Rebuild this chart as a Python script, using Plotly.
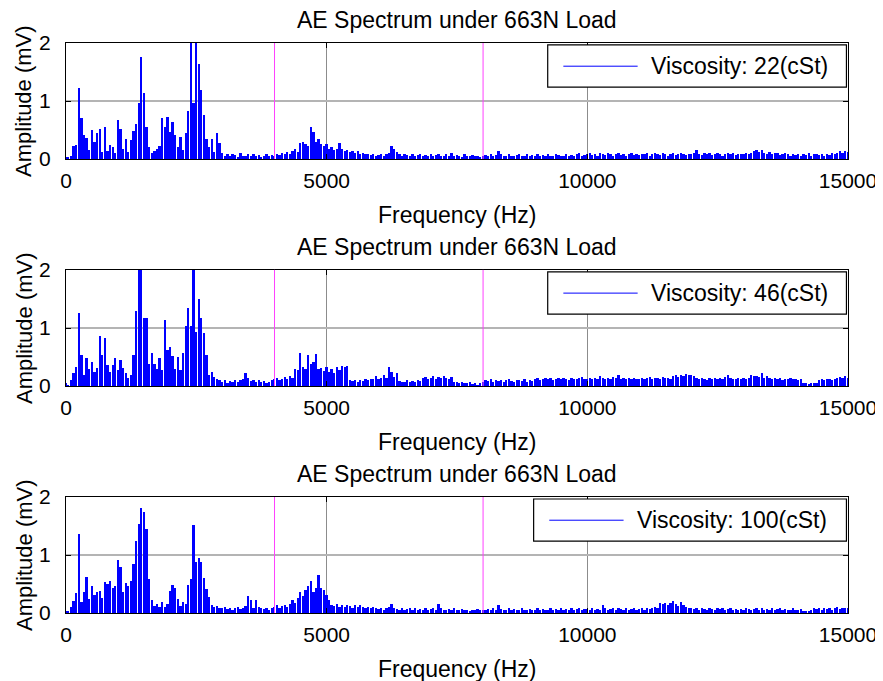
import plotly.graph_objects as go

# spectrum sampled every 50 Hz, 0 .. 15000 Hz (one row per kHz)
FREQ_STEP_HZ = 50
MARKER_FREQS_HZ = [4000, 8000]
X_TICKS = [0, 5000, 10000, 15000]
Y_TICKS = [0, 1, 2]
PANEL_TITLE = "AE Spectrum under 663N Load"
LEGEND_LABELS = ["Viscosity: 22(cSt)", "Viscosity: 46(cSt)", "Viscosity: 100(cSt)"]

AMP_22CST = [
    0.04, 0.02, 0.06, 0.22, 0.25, 1.23, 0.70, 0.41, 0.37, 0.15, 0.50, 0.29, 0.44, 0.52, 0.12, 0.56, 0.14, 0.25, 0.20, 0.10,
    0.67, 0.52, 0.18, 0.35, 0.12, 0.32, 0.48, 0.61, 0.97, 1.76, 1.13, 0.55, 0.21, 0.10, 0.14, 0.18, 0.22, 0.70, 0.55, 0.73,
    0.47, 0.64, 0.41, 0.20, 0.38, 0.15, 0.44, 0.82, 2.30, 0.96, 2.40, 1.63, 1.19, 0.76, 0.35, 0.21, 0.34, 0.12, 0.44, 0.27,
    0.10, 0.06, 0.08, 0.05, 0.09, 0.07, 0.04, 0.10, 0.06, 0.05, 0.08, 0.06, 0.09, 0.05, 0.07, 0.04, 0.06, 0.08, 0.05, 0.07,
    0.06, 0.09, 0.07, 0.10, 0.08, 0.12, 0.09, 0.14, 0.17, 0.12, 0.27, 0.29, 0.26, 0.22, 0.56, 0.47, 0.29, 0.35, 0.26, 0.23,
    0.26, 0.18, 0.20, 0.15, 0.17, 0.28, 0.17, 0.13, 0.15, 0.12, 0.14, 0.11, 0.13, 0.09, 0.10, 0.08, 0.09, 0.07, 0.08, 0.06,
    0.07, 0.09, 0.06, 0.08, 0.10, 0.22, 0.17, 0.12, 0.08, 0.06, 0.09, 0.07, 0.05, 0.08, 0.06, 0.07, 0.09, 0.05, 0.07, 0.06,
    0.08, 0.05, 0.07, 0.09, 0.06, 0.05, 0.08, 0.06, 0.10, 0.05, 0.07, 0.06, 0.04, 0.08, 0.05, 0.06, 0.07, 0.05, 0.06, 0.04,
    0.05, 0.07, 0.06, 0.08, 0.05, 0.07, 0.13, 0.08, 0.06, 0.05, 0.09, 0.06, 0.05, 0.07, 0.08, 0.05, 0.06, 0.09, 0.05, 0.07,
    0.06, 0.08, 0.05, 0.07, 0.06, 0.09, 0.05, 0.06, 0.08, 0.07, 0.05, 0.06, 0.09, 0.06, 0.07, 0.05, 0.08, 0.10, 0.06, 0.07,
    0.08, 0.10, 0.07, 0.09, 0.06, 0.11, 0.08, 0.07, 0.10, 0.09, 0.06, 0.08, 0.11, 0.07, 0.09, 0.06, 0.08, 0.10, 0.07, 0.09,
    0.07, 0.09, 0.08, 0.10, 0.06, 0.09, 0.11, 0.08, 0.07, 0.10, 0.09, 0.06, 0.08, 0.10, 0.07, 0.09, 0.11, 0.08, 0.07, 0.09,
    0.08, 0.10, 0.16, 0.09, 0.07, 0.10, 0.08, 0.11, 0.07, 0.09, 0.10, 0.08, 0.06, 0.09, 0.11, 0.08, 0.10, 0.07, 0.09, 0.08,
    0.09, 0.11, 0.08, 0.10, 0.13, 0.16, 0.12, 0.15, 0.10, 0.09, 0.12, 0.08, 0.10, 0.11, 0.07, 0.09, 0.10, 0.08, 0.06, 0.08,
    0.07, 0.09, 0.06, 0.08, 0.07, 0.10, 0.06, 0.08, 0.09, 0.07, 0.08, 0.06, 0.09, 0.07, 0.10, 0.08, 0.11, 0.13, 0.10, 0.14,
    0.12,
]

AMP_46CST = [
    0.05, 0.03, 0.10, 0.22, 0.34, 1.26, 0.54, 0.20, 0.48, 0.30, 0.41, 0.25, 0.31, 0.86, 0.54, 0.83, 0.36, 0.25, 0.36, 0.48,
    0.28, 0.45, 0.31, 0.22, 0.15, 0.19, 0.54, 1.29, 2.20, 2.10, 1.17, 1.17, 0.39, 0.57, 0.39, 0.30, 0.48, 0.28, 1.14, 0.62,
    0.68, 0.52, 0.30, 0.51, 0.28, 0.57, 1.03, 1.35, 1.03, 2.30, 0.94, 1.50, 1.17, 0.91, 0.54, 0.19, 0.25, 0.16, 0.12, 0.10,
    0.08, 0.10, 0.06, 0.09, 0.07, 0.11, 0.08, 0.10, 0.12, 0.22, 0.14, 0.09, 0.11, 0.08, 0.10, 0.07, 0.09, 0.06, 0.08, 0.10,
    0.12, 0.14, 0.11, 0.13, 0.16, 0.12, 0.18, 0.15, 0.30, 0.28, 0.57, 0.34, 0.30, 0.54, 0.38, 0.42, 0.55, 0.30, 0.31, 0.26,
    0.34, 0.25, 0.30, 0.22, 0.34, 0.28, 0.35, 0.33, 0.35, 0.10, 0.09, 0.11, 0.08, 0.10, 0.09, 0.12, 0.11, 0.13, 0.12, 0.18,
    0.12, 0.15, 0.19, 0.14, 0.34, 0.25, 0.16, 0.22, 0.09, 0.07, 0.08, 0.10, 0.07, 0.09, 0.08, 0.10, 0.09, 0.14, 0.16, 0.13,
    0.15, 0.17, 0.13, 0.16, 0.14, 0.18, 0.15, 0.12, 0.16, 0.07, 0.08, 0.06, 0.07, 0.05, 0.06, 0.07, 0.04, 0.05, 0.03, 0.06,
    0.08, 0.10, 0.09, 0.12, 0.08, 0.10, 0.09, 0.11, 0.08, 0.10, 0.12, 0.09, 0.08, 0.11, 0.10, 0.09, 0.12, 0.08, 0.10, 0.09,
    0.12, 0.14, 0.11, 0.13, 0.15, 0.12, 0.14, 0.11, 0.13, 0.15, 0.12, 0.14, 0.13, 0.11, 0.15, 0.13, 0.12, 0.14, 0.16, 0.13,
    0.13, 0.15, 0.12, 0.14, 0.13, 0.17, 0.15, 0.12, 0.14, 0.13, 0.16, 0.14, 0.20, 0.13, 0.15, 0.12, 0.14, 0.13, 0.15, 0.12,
    0.13, 0.15, 0.12, 0.14, 0.16, 0.13, 0.15, 0.14, 0.12, 0.16, 0.14, 0.15, 0.13, 0.17, 0.19, 0.16, 0.20, 0.18, 0.21, 0.19,
    0.20, 0.17, 0.14, 0.12, 0.15, 0.13, 0.11, 0.14, 0.12, 0.15, 0.13, 0.14, 0.12, 0.16, 0.19, 0.15, 0.13, 0.12, 0.14, 0.13,
    0.15, 0.13, 0.14, 0.19, 0.17, 0.18, 0.16, 0.23, 0.15, 0.17, 0.14, 0.12, 0.15, 0.13, 0.14, 0.11, 0.13, 0.12, 0.14, 0.12,
    0.13, 0.11, 0.12, 0.05, 0.06, 0.04, 0.05, 0.06, 0.05, 0.10, 0.12, 0.11, 0.13, 0.12, 0.10, 0.13, 0.14, 0.16, 0.15, 0.17,
    0.14,
]

AMP_100CST = [
    0.04, 0.03, 0.10, 0.20, 0.34, 1.36, 0.19, 0.37, 0.62, 0.25, 0.46, 0.31, 0.37, 0.38, 0.26, 0.54, 0.50, 0.55, 0.43, 0.46,
    0.91, 0.80, 0.37, 0.52, 0.46, 0.55, 0.85, 1.24, 1.54, 1.81, 1.75, 1.45, 0.58, 0.22, 0.12, 0.16, 0.10, 0.19, 0.10, 0.15,
    0.38, 0.49, 0.43, 0.25, 0.12, 0.19, 0.15, 0.49, 0.58, 1.52, 0.88, 0.94, 0.88, 0.61, 0.42, 0.28, 0.13, 0.10, 0.12, 0.08,
    0.08, 0.10, 0.07, 0.09, 0.06, 0.08, 0.10, 0.07, 0.09, 0.12, 0.30, 0.22, 0.09, 0.22, 0.10, 0.08, 0.07, 0.09, 0.06, 0.08,
    0.10, 0.13, 0.09, 0.12, 0.14, 0.11, 0.15, 0.22, 0.18, 0.26, 0.37, 0.30, 0.40, 0.47, 0.56, 0.37, 0.43, 0.66, 0.43, 0.40,
    0.31, 0.22, 0.14, 0.12, 0.15, 0.11, 0.13, 0.10, 0.14, 0.12, 0.09, 0.13, 0.11, 0.14, 0.10, 0.08, 0.11, 0.09, 0.10, 0.08,
    0.07, 0.09, 0.06, 0.08, 0.10, 0.16, 0.09, 0.07, 0.06, 0.08, 0.05, 0.07, 0.09, 0.06, 0.08, 0.05, 0.07, 0.06, 0.08, 0.06,
    0.07, 0.09, 0.06, 0.16, 0.08, 0.06, 0.05, 0.07, 0.06, 0.08, 0.05, 0.06, 0.07, 0.05, 0.06, 0.04, 0.06, 0.05, 0.07, 0.05,
    0.05, 0.06, 0.07, 0.05, 0.08, 0.06, 0.13, 0.07, 0.05, 0.06, 0.08, 0.05, 0.07, 0.06, 0.05, 0.08, 0.06, 0.05, 0.07, 0.06,
    0.06, 0.08, 0.05, 0.07, 0.06, 0.05, 0.08, 0.06, 0.07, 0.05, 0.09, 0.06, 0.07, 0.05, 0.08, 0.06, 0.07, 0.09, 0.06, 0.07,
    0.07, 0.06, 0.08, 0.05, 0.07, 0.06, 0.13, 0.08, 0.06, 0.07, 0.09, 0.06, 0.08, 0.07, 0.05, 0.08, 0.06, 0.07, 0.09, 0.06,
    0.07, 0.08, 0.06, 0.09, 0.07, 0.08, 0.10, 0.08, 0.17, 0.15, 0.18, 0.14, 0.17, 0.20, 0.16, 0.12, 0.19, 0.13, 0.10, 0.08,
    0.08, 0.07, 0.09, 0.06, 0.08, 0.07, 0.06, 0.09, 0.07, 0.06, 0.08, 0.07, 0.09, 0.06, 0.07, 0.08, 0.06, 0.07, 0.05, 0.07,
    0.06, 0.08, 0.07, 0.05, 0.07, 0.09, 0.06, 0.08, 0.06, 0.07, 0.05, 0.08, 0.06, 0.07, 0.09, 0.06, 0.07, 0.05, 0.06, 0.08,
    0.06, 0.05, 0.07, 0.04, 0.03, 0.03, 0.05, 0.08, 0.07, 0.09, 0.06, 0.08, 0.07, 0.09, 0.06, 0.08, 0.10, 0.07, 0.09, 0.08,
    0.08,
]

SERIES = [AMP_22CST, AMP_46CST, AMP_100CST]

FONT = "Arial, Liberation Sans, Helvetica, sans-serif"
BLUE = "#0000ff"
MAGENTA = "#ff40ff"

# vertical domains of the three axes (top to bottom)
DOMAINS = [[0.7965, 1.0], [0.398, 0.602], [0.0, 0.2035]]
# legend box left edge (fraction of axis width) per panel
LEGEND_LEFT = [0.616, 0.616, 0.598]

fig = go.Figure()
shapes = []
annotations = []

for i, amps in enumerate(SERIES):
    n = "" if i == 0 else str(i + 1)
    xa, ya = "x" + n, "y" + n
    freqs = [k * FREQ_STEP_HZ for k in range(len(amps))]
    fig.add_trace(
        go.Bar(
            x=freqs,
            y=amps,
            width=34,
            marker_color=BLUE,
            marker_line_width=0,
            xaxis=xa,
            yaxis=ya,
            showlegend=False,
            hovertemplate="%{x} Hz: %{y:.2f} mV<extra></extra>",
        )
    )
    axis_common = dict(
        showline=True,
        linecolor="black",
        linewidth=1,
        mirror="ticks",
        ticks="inside",
        ticklen=5,
        tickcolor="black",
        zeroline=False,
        tickfont=dict(family=FONT, size=21, color="black"),
    )
    fig.update_layout(
        {
            "xaxis" + n: dict(
                axis_common,
                range=[0, 15000],
                tickvals=X_TICKS,
                ticktext=[str(v) for v in X_TICKS],
                showgrid=True,
                gridcolor="#8c8c8c",
                gridwidth=1,
                anchor=ya,
                domain=[0, 1],
                ticklabelstandoff=3,
            ),
            "yaxis" + n: dict(
                axis_common,
                range=[0, 2],
                tickvals=Y_TICKS,
                showgrid=True,
                gridcolor="#b4b4b4",
                gridwidth=1.5,
                anchor=xa,
                domain=DOMAINS[i],
                ticklabelstandoff=10,
            ),
        }
    )

    for f in MARKER_FREQS_HZ:
        shapes.append(dict(type="line", xref=xa, yref=ya + " domain", x0=f, x1=f, y0=0, y1=1,
                           line=dict(color=MAGENTA, width=1)))

    # MATLAB-style legend box
    left = LEGEND_LEFT[i]
    shapes.append(dict(type="rect", xref=xa + " domain", yref=ya + " domain",
                       x0=left, x1=0.998, y0=0.62, y1=0.983,
                       line=dict(color="black", width=1.2), fillcolor="white"))
    shapes.append(dict(type="line", xref=xa + " domain", yref=ya + " domain",
                       x0=left + 0.02, x1=left + 0.115, y0=0.80, y1=0.80,
                       line=dict(color=BLUE, width=1)))
    annotations.append(dict(text=LEGEND_LABELS[i], xref=xa + " domain", yref=ya + " domain",
                            x=left + 0.13, y=0.80, xanchor="left", yanchor="middle", showarrow=False,
                            font=dict(family=FONT, size=23, color="black")))

    annotations.append(dict(text=PANEL_TITLE, xref=xa + " domain", yref=ya + " domain",
                            x=0.5, y=1, yshift=23, xanchor="center", yanchor="middle", showarrow=False,
                            font=dict(family=FONT, size=23, color="black")))
    annotations.append(dict(text="Frequency (Hz)", xref=xa + " domain", yref=ya + " domain",
                            x=0.5, y=0, yshift=-56, xanchor="center", yanchor="middle", showarrow=False,
                            font=dict(family=FONT, size=23, color="black")))
    annotations.append(dict(text="Amplitude (mV)", xref=xa + " domain", yref=ya + " domain",
                            x=0, y=0.5, xshift=-42, textangle=-90, xanchor="center", yanchor="middle",
                            showarrow=False, font=dict(family=FONT, size=22, color="black")))

# the page body adds an 8 px offset, so the margins are trimmed by that amount
fig.update_layout(
    width=883,
    height=681,
    margin=dict(l=58, r=43, t=35, b=76),
    paper_bgcolor="white",
    plot_bgcolor="white",
    bargap=0,
    showlegend=False,
    shapes=shapes,
    annotations=annotations,
)

fig.write_html("out.html")
